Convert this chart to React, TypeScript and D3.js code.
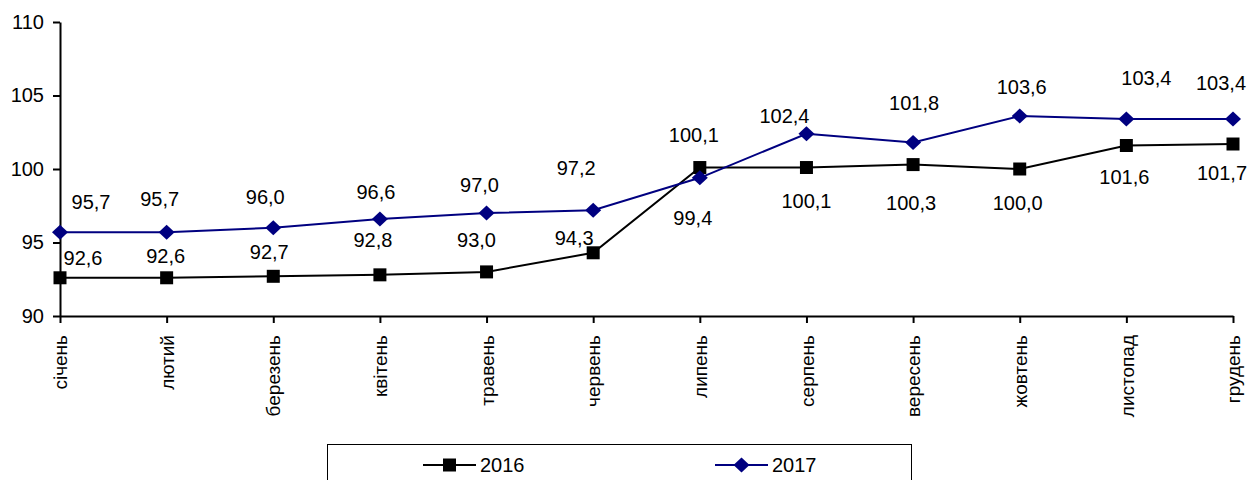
import React, { useEffect, useRef } from 'react';
import * as d3 from 'd3';

const months: string[] = [
  'січень', 'лютий', 'березень', 'квітень', 'травень', 'червень',
  'липень', 'серпень', 'вересень', 'жовтень', 'листопад', 'грудень',
];
const values2016: number[] = [92.6, 92.6, 92.7, 92.8, 93.0, 94.3, 100.1, 100.1, 100.3, 100.0, 101.6, 101.7];
const values2017: number[] = [95.7, 95.7, 96.0, 96.6, 97.0, 97.2, 99.4, 102.4, 101.8, 103.6, 103.4, 103.4];
const yTicks: number[] = [90, 95, 100, 105, 110];
const seriesNames: string[] = ['2016', '2017'];

// hand-placed data labels, offsets from the point (px)
const nudge2016: [number, number][] = [
  [23, -20], [-1, -22], [-4, -24], [-7, -35], [-10, -32], [-19, -15],
  [-6, -33], [0, 33], [-2, 38], [-2, 34], [-2, 32], [-11, 29],
];
const nudge2017: [number, number][] = [
  [31, -30], [-7, -33], [-8, -31], [-4, -27], [-7, -28], [-17, -42],
  [-7, 40], [-22, -18], [1, -40], [2, -29], [20, -41], [-12, -36],
];

const width = 1260;
const height = 480;
const margin = { top: 22, right: 27, bottom: 164, left: 60 };
const font = 'Liberation Sans, Arial, sans-serif';

const App: React.FC = () => {
  const ref = useRef<SVGSVGElement | null>(null);

  useEffect(() => {
    const svg = d3.select(ref.current);
    svg.selectAll('*').remove();

    const x = d3.scalePoint<string>()
      .domain(months)
      .range([margin.left, width - margin.right]);

    const y = d3.scaleLinear()
      .domain([90, 110])
      .range([height - margin.bottom, margin.top]);

    const g = svg.append('g');

    // y axis
    const yAxis = g.append('g')
      .attr('transform', `translate(${margin.left},0)`)
      .call(d3.axisLeft(y).tickValues(yTicks).tickSize(7).tickSizeOuter(0).tickFormat(d3.format('d')));
    yAxis.select('.domain').attr('stroke', '#000').attr('stroke-width', 2);
    yAxis.selectAll('.tick line').attr('stroke', '#000').attr('stroke-width', 2);
    yAxis.selectAll('.tick text')
      .attr('x', -16)
      .attr('fill', '#000')
      .style('font-family', font)
      .style('font-size', '20px');

    // x axis
    const xAxis = g.append('g')
      .attr('transform', `translate(0,${height - margin.bottom})`)
      .call(d3.axisBottom(x).tickSize(7).tickSizeOuter(0));
    xAxis.select('.domain').attr('stroke', '#000').attr('stroke-width', 2);
    xAxis.selectAll('.tick line').attr('stroke', '#000').attr('stroke-width', 2);
    xAxis.selectAll('.tick text')
      .attr('transform', 'rotate(-90)')
      .attr('x', -19)
      .attr('y', 0)
      .attr('dy', '0.35em')
      .attr('text-anchor', 'end')
      .attr('fill', '#000')
      .style('font-family', font)
      .style('font-size', '19px');

    const line = d3.line<number>()
      .x((d, i) => x(months[i])!)
      .y((d) => y(d));

    // 2016 line
    g.append('path')
      .datum(values2016)
      .attr('d', line)
      .attr('fill', 'none')
      .attr('stroke', '#000')
      .attr('stroke-width', 2);

    // 2017 line
    g.append('path')
      .datum(values2017)
      .attr('d', line)
      .attr('fill', 'none')
      .attr('stroke', '#000080')
      .attr('stroke-width', 2);

    const square = d3.symbol().type(d3.symbolSquare).size(169);
    const diamond = 'M0,-7.5L8,0L0,7.5L-8,0Z';

    g.selectAll('.m2016')
      .data(values2016)
      .enter()
      .append('path')
      .attr('class', 'm2016')
      .attr('d', square)
      .attr('transform', (d, i) => `translate(${x(months[i])},${y(d)})`)
      .attr('fill', '#000');

    g.selectAll('.m2017')
      .data(values2017)
      .enter()
      .append('path')
      .attr('class', 'm2017')
      .attr('d', diamond)
      .attr('transform', (d, i) => `translate(${x(months[i])},${y(d)})`)
      .attr('fill', '#000080');

    const fmt = (v: number) => v.toFixed(1).replace('.', ',');

    const labels = (vals: number[], nudge: [number, number][], cls: string) => {
      g.selectAll(`.${cls}`)
        .data(vals)
        .enter()
        .append('text')
        .attr('class', cls)
        .attr('x', (d, i) => x(months[i])! + nudge[i][0])
        .attr('y', (d, i) => y(d) + nudge[i][1])
        .attr('dy', '0.35em')
        .attr('text-anchor', 'middle')
        .attr('fill', '#000')
        .style('font-family', font)
        .style('font-size', '20px')
        .text((d) => fmt(d));
    };
    labels(values2016, nudge2016, 'l2016');
    labels(values2017, nudge2017, 'l2017');

    // legend
    const legend = svg.append('g');
    legend.append('rect')
      .attr('x', 327.5)
      .attr('y', 444.5)
      .attr('width', 584)
      .attr('height', 60)
      .attr('fill', '#fff')
      .attr('stroke', '#000')
      .attr('stroke-width', 1);

    const legendItems = [
      { name: seriesNames[0], x0: 423, color: '#000', mark: square() as string },
      { name: seriesNames[1], x0: 715, color: '#000080', mark: diamond },
    ];
    const ly = 465;
    legendItems.forEach((it) => {
      legend.append('line')
        .attr('x1', it.x0)
        .attr('x2', it.x0 + 53)
        .attr('y1', ly)
        .attr('y2', ly)
        .attr('stroke', it.color)
        .attr('stroke-width', 2);
      legend.append('path')
        .attr('d', it.mark)
        .attr('transform', `translate(${it.x0 + 26.5},${ly})`)
        .attr('fill', it.color);
      legend.append('text')
        .attr('x', it.x0 + 57)
        .attr('y', ly)
        .attr('dy', '0.35em')
        .attr('fill', '#000')
        .style('font-family', font)
        .style('font-size', '20px')
        .text(it.name);
    });
  }, []);

  return (
    <svg
      ref={ref}
      width={width}
      height={height}
      style={{ position: 'absolute', left: 0, top: 0, background: '#fff' }}
    />
  );
};

export default App;
